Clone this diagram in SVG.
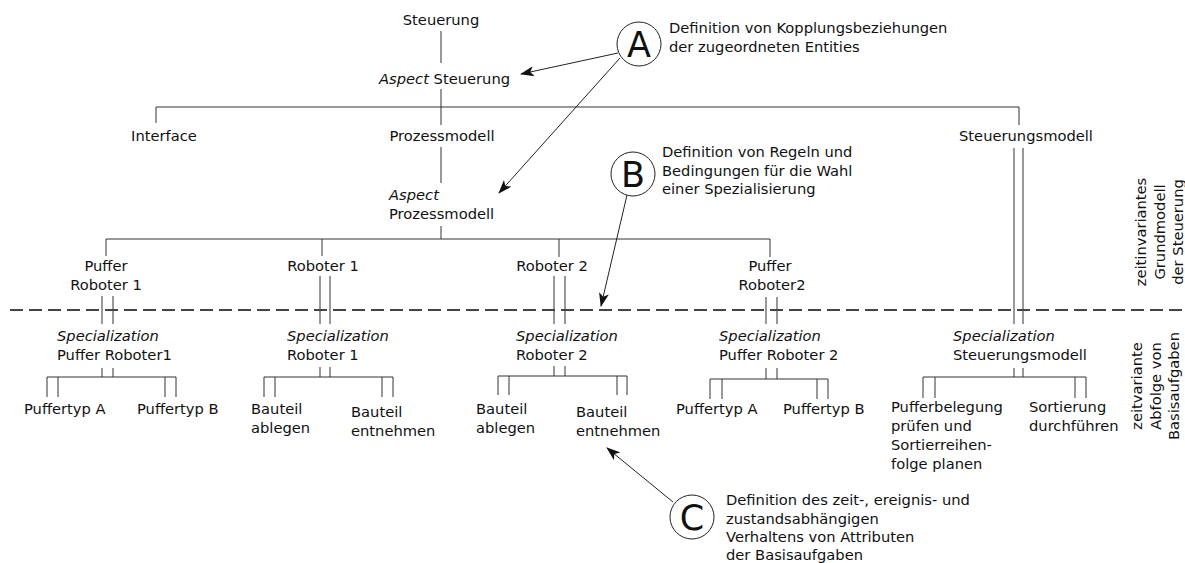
<svg xmlns="http://www.w3.org/2000/svg" width="1185" height="563" viewBox="0 0 1185 563">
  <style>
    text { font-family: "DejaVu Sans", "Liberation Sans", sans-serif; font-size: 14.7px; fill: #111; }
    .mid { text-anchor: middle; }
    .it { font-style: italic; }
    .big { font-size: 35px; text-anchor: middle; }
    .side { text-anchor: middle; }
    .ln { stroke: #333; stroke-width: 1; fill: none; }
    .ring { stroke: #222; stroke-width: 1; fill: #fff; }
    .ptr { stroke: #222; stroke-width: 1; fill: none; marker-end: url(#head); }
    .cut { stroke: #444; stroke-width: 2; stroke-dasharray: 13 6; fill: none; }
  </style>
  <defs>
    <marker id="head" viewBox="0 0 14 10" refX="13" refY="5" markerWidth="14" markerHeight="10" markerUnits="userSpaceOnUse" orient="auto">
      <path d="M0,0 L14,5 L0,10 L3.5,5 z" fill="#111"/>
    </marker>
  </defs>
  <rect width="1185" height="563" fill="#fff"/>

  <!-- tree connectors -->
  <g id="connectors">
    <!-- top level -->
    <path class="ln" d="M441,31 V63 M441,89 V125 M156,107 H1019 M156,107 V123 M1019,107 V125"/>
    <path class="ln" d="M441,147 V183 M441,226 V239 M106,239 H770 M106,239 V256 M322,239 V256 M559,239 V257 M770,239 V257"/>
    <!-- double links across the time boundary -->
    <path class="ln" d="M102,296 V324 M113,296 V324 M320,276 V324 M330,276 V324 M554,276 V324 M565,276 V324 M766,297 V324 M777,297 V324 M1014,148 V324 M1023,148 V324"/>
    <!-- specialization branches -->
    <path class="ln" d="M102,368 V377 M113,368 V377 M47,377 H176 M47,377 V397 M58,377 V397 M165,377 V397 M176,377 V397"/>
    <path class="ln" d="M320,367 V377 M330,367 V377 M264,377 H393 M264,377 V397 M275,377 V397 M382,377 V397 M393,377 V397"/>
    <path class="ln" d="M554,366 V376 M565,366 V376 M498,376 H627 M498,376 V395 M509,376 V395 M617,376 V395 M627,376 V395"/>
    <path class="ln" d="M766,368 V379 M777,368 V379 M710,379 H828 M710,379 V399 M722,379 V399 M817,379 V399 M828,379 V399"/>
    <path class="ln" d="M1014,368 V377 M1023,368 V377 M923,377 H1086 M923,377 V398 M935,377 V398 M1075,377 V398 M1086,377 V398"/>
    <!-- annotation pointers -->
    <line class="ptr" x1="618" y1="53" x2="521" y2="74"/>
    <line class="ptr" x1="620" y1="58" x2="499" y2="193"/>
    <line class="ptr" x1="627" y1="195" x2="601" y2="306"/>
    <line class="ptr" x1="673" y1="502" x2="607" y2="448"/>
  </g>

  <!-- boundary between time-invariant and time-variant model -->
  <line id="boundary" class="cut" x1="10" y1="310" x2="1185" y2="310"/>

  <g id="steuerung"><text class="mid" x="441" y="25">Steuerung</text></g>
  <g id="aspect-steuerung"><text x="379" y="84"><tspan class="it">Aspect</tspan> Steuerung</text></g>
  <g id="interface"><text class="mid" x="164" y="141">Interface</text></g>
  <g id="prozessmodell"><text class="mid" x="442" y="141">Prozessmodell</text></g>
  <g id="steuerungsmodell"><text class="mid" x="1026" y="141">Steuerungsmodell</text></g>
  <g id="aspect-prozessmodell">
    <text x="389" y="200" class="it">Aspect</text>
    <text x="389" y="219">Prozessmodell</text>
  </g>

  <g id="puffer-roboter-1">
    <text class="mid" x="106" y="271">Puffer</text>
    <text class="mid" x="106" y="290">Roboter 1</text>
  </g>
  <g id="roboter-1"><text class="mid" x="323" y="271">Roboter 1</text></g>
  <g id="roboter-2"><text class="mid" x="552" y="271">Roboter 2</text></g>
  <g id="puffer-roboter-2">
    <text class="mid" x="770" y="271">Puffer</text>
    <text class="mid" x="772" y="290">Roboter2</text>
  </g>

  <g id="spec-puffer-roboter-1">
    <text x="57" y="341" class="it">Specialization</text>
    <text x="57" y="360">Puffer Roboter1</text>
  </g>
  <g id="spec-roboter-1">
    <text x="287" y="341" class="it">Specialization</text>
    <text x="287" y="360">Roboter 1</text>
  </g>
  <g id="spec-roboter-2">
    <text x="516" y="341" class="it">Specialization</text>
    <text x="516" y="360">Roboter 2</text>
  </g>
  <g id="spec-puffer-roboter-2">
    <text x="719" y="341" class="it">Specialization</text>
    <text x="719" y="360">Puffer Roboter 2</text>
  </g>
  <g id="spec-steuerungsmodell">
    <text x="953" y="341" class="it">Specialization</text>
    <text x="953" y="360">Steuerungsmodell</text>
  </g>

  <g id="pr1-puffertyp-a"><text x="24" y="414">Puffertyp A</text></g>
  <g id="pr1-puffertyp-b"><text x="137" y="414">Puffertyp B</text></g>
  <g id="r1-ablegen"><text x="251" y="414">Bauteil</text><text x="251" y="433">ablegen</text></g>
  <g id="r1-entnehmen"><text x="351" y="417">Bauteil</text><text x="351" y="436">entnehmen</text></g>
  <g id="r2-ablegen"><text x="476" y="414">Bauteil</text><text x="476" y="433">ablegen</text></g>
  <g id="r2-entnehmen"><text x="576" y="417">Bauteil</text><text x="576" y="436">entnehmen</text></g>
  <g id="pr2-puffertyp-a"><text x="676" y="414">Puffertyp A</text></g>
  <g id="pr2-puffertyp-b"><text x="783" y="414">Puffertyp B</text></g>
  <g id="sm-pufferbelegung">
    <text x="891" y="412">Pufferbelegung</text>
    <text x="891" y="431">prüfen und</text>
    <text x="891" y="450">Sortierreihen-</text>
    <text x="891" y="469">folge planen</text>
  </g>
  <g id="sm-sortierung">
    <text x="1029" y="412">Sortierung</text>
    <text x="1029" y="431">durchführen</text>
  </g>

  <!-- annotations -->
  <g id="note-a">
    <circle class="ring" cx="639" cy="44" r="22"/>
    <text class="big" x="639" y="56.5">A</text>
    <text x="669" y="33">Definition von Kopplungsbeziehungen</text>
    <text x="669" y="52">der zugeordneten Entities</text>
  </g>
  <g id="note-b">
    <circle class="ring" cx="633" cy="174" r="22"/>
    <text class="big" x="633" y="186.5">B</text>
    <text x="662" y="157">Definition von Regeln und</text>
    <text x="662" y="176">Bedingungen für die Wahl</text>
    <text x="662" y="194">einer Spezialisierung</text>
  </g>
  <g id="note-c">
    <circle class="ring" cx="692" cy="517" r="22"/>
    <text class="big" x="692" y="529.5">C</text>
    <text x="726" y="505">Definition des zeit-, ereignis- und</text>
    <text x="726" y="524">zustandsabhängigen</text>
    <text x="726" y="542">Verhaltens von Attributen</text>
    <text x="726" y="560">der Basisaufgaben</text>
  </g>

  <!-- side captions -->
  <g id="caption-upper">
    <text class="side" transform="translate(1146,232) rotate(-90)">zeitinvariantes</text>
    <text class="side" transform="translate(1164.5,232) rotate(-90)">Grundmodell</text>
    <text class="side" transform="translate(1183,232) rotate(-90)">der Steuerung</text>
  </g>
  <g id="caption-lower">
    <text class="side" transform="translate(1142,386) rotate(-90)">zeitvariante</text>
    <text class="side" transform="translate(1160.5,386) rotate(-90)">Abfolge von</text>
    <text class="side" transform="translate(1179,386) rotate(-90)">Basisaufgaben</text>
  </g>
</svg>
